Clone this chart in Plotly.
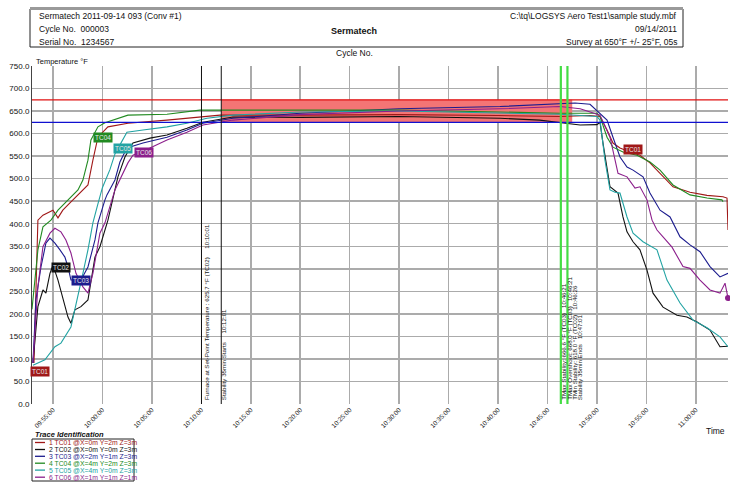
import plotly.graph_objects as go
import pandas as pd

BASE = pd.Timestamp("2011-09-14 09:55:00")

# ---- data: elapsed minutes after 09:55:00 and temperature (°F) ----
tc01_min = [-1.92, -1.72, -1.52, -1.01, -0.5, 0.0, 0.51, 1.0, 1.52, 2.53, 3.54, 4.04, 4.55, 5.56, 7.58, 11.53, 14.86,
            16.89, 25.0, 35.0, 45.0, 51.3, 54.3, 55.31, 56.02, 56.62, 57.33, 58.34, 59.35, 60.36, 61.38, 62.69, 64.41,
            66.13, 67.74, 68.15, 68.25]
tc01_temp = [91, 250, 408, 419, 425, 430, 413, 430, 442, 464, 486, 541, 592, 615, 623, 630, 637,
             641, 641, 642, 640, 638, 640, 638, 608, 579, 568, 559, 552, 535, 512, 482, 470,
             463, 460, 457, 386]

tc02_min = [-2.02, -1.52, -1.01, -0.71, -0.3, 0.0, 0.51, 1.01, 1.52, 1.82, 2.22, 2.83, 3.54, 4.25, 4.75, 5.56, 6.57,
            7.28, 8.09, 9.81, 11.53, 13.55, 15.17, 18.2, 25.0, 35.0, 45.2, 49.2, 51.26, 53.3, 55.0, 55.31, 55.61,
            56.02, 56.32, 57.13, 57.63, 58.04, 58.65, 59.35, 60.06, 60.67, 61.68, 63.09, 64.1, 65.12, 66.43, 67.44,
            68.25]
tc02_temp = [91, 216, 253, 246, 290, 308, 275, 231, 193, 179, 209, 216, 231, 326, 349, 408, 504,
             548, 579, 590, 597, 612, 625, 637, 636, 638, 634, 630, 625, 619, 620, 625, 579,
             519, 482, 468, 415, 382, 360, 342, 297, 246, 215, 197, 193, 182, 164, 127,
             128]

tc03_min = [-2.02, -1.72, -1.21, -0.71, -0.3, 0.2, 0.71, 1.21, 1.52, 1.82, 2.83, 3.54, 4.25, 4.55, 5.26, 5.46, 6.27,
            6.77, 7.48, 9.1, 11.53, 13.55, 15.17, 18.2, 25.0, 35.0, 45.2, 51.26, 52.78, 54.3, 55.0, 56.02, 56.62,
            57.33, 58.04, 58.65, 59.66, 60.36, 61.38, 62.39, 63.4, 64.41, 65.42, 66.43, 67.44, 68.25]
tc03_temp = [91, 231, 304, 357, 368, 357, 342, 326, 304, 275, 275, 304, 364, 402, 453, 464, 497,
             537, 568, 579, 592, 608, 623, 634, 645, 655, 660, 667, 668, 665, 650, 630, 592,
             548, 526, 519, 504, 468, 430, 415, 371, 353, 338, 305, 282, 290]

tc04_min = [-2.12, -1.72, -1.52, -1.01, -0.2, 0.51, 1.52, 2.53, 3.03, 3.54, 3.84, 4.55, 5.26, 6.57, 7.58, 11.53,
            14.86, 18.2, 25.0, 35.0, 45.2, 51.26, 55.0, 55.31, 56.02, 56.62, 57.63, 59.05, 60.36, 61.38, 62.69,
            64.41, 66.13, 67.64, 67.74]
tc04_temp = [210, 300, 342, 393, 408, 430, 453, 475, 497, 541, 586, 615, 624, 634, 641, 643,
             652, 652, 652, 652, 648, 645, 645, 638, 592, 570, 559, 552, 537, 519, 486,
             464, 457, 453, 449]

tc05_min = [-2.02, -0.81, 0.2, 0.81, 1.82, 2.53, 3.03, 3.54, 4.04, 4.5, 5.0, 5.76, 6.27, 6.9, 7.48, 9.1, 11.53,
            13.55, 15.57, 18.2, 25.0, 35.0, 45.2, 51.26, 55.0, 55.31, 55.81, 56.32, 56.83, 57.33, 58.04, 58.65,
            59.66, 61.07, 62.08, 63.4, 64.71, 66.13, 67.44, 68.25]
tc05_temp = [86, 98, 127, 135, 171, 237, 290, 342, 402, 440, 480, 520, 555, 580, 603, 608, 615,
             623, 634, 641, 648, 650, 645, 643, 638, 630, 541, 475, 470, 468, 415, 379,
             360, 342, 275, 224, 186, 169, 149, 127]

tc06_min = [-2.02, -1.52, -1.01, -0.3, 0.2, 0.81, 1.31, 1.82, 2.33, 3.03, 3.54, 4.04, 4.75, 5.26, 6.27, 7.08, 7.58,
            8.09, 9.81, 11.53, 13.55, 15.17, 18.2, 25.0, 35.0, 45.2, 51.26, 53.3, 55.31, 56.32, 56.83, 57.13,
            58.04, 58.85, 59.35, 60.06, 60.57, 61.07, 61.68, 62.59, 63.7, 64.41, 65.42, 66.43, 67.44, 67.95, 68.25]
tc06_temp = [91, 260, 349, 379, 390, 382, 364, 335, 290, 260, 246, 290, 379, 402, 475, 512, 535,
             552, 568, 586, 603, 619, 630, 642, 650, 655, 660, 655, 641, 592, 541, 512,
             504, 479, 482, 453, 408, 386, 371, 348, 305, 301, 275, 253, 246, 268, 235]

trace_names = ["TC01", "TC02", "TC03", "TC04", "TC05", "TC06"]
trace_colors = ["#a01818", "#111111", "#1c1c8e", "#218a21", "#22a3a3", "#8c1f8c"]
legend_texts = ["1 TC01 @X=0m Y=2m Z=3m", "2 TC02 @X=0m Y=0m Z=3m", "3 TC03 @X=2m Y=1m Z=3m",
                "4 TC04 @X=4m Y=2m Z=3m", "5 TC05 @X=4m Y=0m Z=3m", "6 TC06 @X=1m Y=1m Z=1m"]

# badge labels: (trace index, minutes, temp)
badge_trace = [0, 1, 2, 3, 4, 5, 0]
badge_min = [-1.31, 0.81, 2.83, 5.06, 7.08, 9.2, 58.65]
badge_temp = [73, 304, 273, 592, 568, 557, 564]

# limits & event times
upper_limit = 675
lower_limit = 625
furnace_time = "2011-09-14 10:10:01"
stab_start = "2011-09-14 10:12:01"
stab_end = "2011-09-14 10:47:01"
tmax_time = "2011-09-14 10:46:21"
band_end = "2011-09-14 10:47:30"

all_min = [tc01_min, tc02_min, tc03_min, tc04_min, tc05_min, tc06_min]
all_temp = [tc01_temp, tc02_temp, tc03_temp, tc04_temp, tc05_temp, tc06_temp]


def to_time(mins):
    return [BASE + pd.Timedelta(minutes=m) for m in mins]


def px(x):
    return (x - 32) / 696.0


def py(y):
    return (404 - y) / 338.0


FONT = "Liberation Sans, Arial, sans-serif"

fig = go.Figure()
for i in range(6):
    fig.add_trace(go.Scatter(x=to_time(all_min[i]), y=all_temp[i], mode="lines",
                             line=dict(color=trace_colors[i], width=1.1), name=trace_names[i],
                             showlegend=False, hoverinfo="skip"))
# end marker on TC06
fig.add_trace(go.Scatter(x=to_time([tc06_min[-1]]), y=[tc06_temp[-1]], mode="markers",
                         marker=dict(color=trace_colors[5], size=6), showlegend=False, hoverinfo="skip",
                         cliponaxis=False))

shapes = []
# stability band
shapes.append(dict(type="rect", xref="x", yref="y", x0=stab_start, x1=band_end, y0=lower_limit, y1=upper_limit,
                   fillcolor="#f47575", line=dict(width=0), layer="between"))
# limits
shapes.append(dict(type="line", xref="paper", yref="y", x0=0, x1=1, y0=upper_limit, y1=upper_limit,
                   line=dict(color="#e01010", width=1.2)))
shapes.append(dict(type="line", xref="paper", yref="y", x0=0, x1=1, y0=lower_limit, y1=lower_limit,
                   line=dict(color="#1010d0", width=1.2)))
# event lines
for t in [furnace_time, stab_start]:
    shapes.append(dict(type="line", xref="x", yref="paper", x0=t, x1=t, y0=0, y1=1,
                       line=dict(color="#111111", width=1)))
for t in [tmax_time, stab_end]:
    shapes.append(dict(type="line", xref="x", yref="paper", x0=t, x1=t, y0=0, y1=1,
                       line=dict(color="#44dd44", width=2.2)))

# header box
shapes.append(dict(type="rect", xref="paper", yref="paper", x0=px(30), x1=px(683), y0=py(47), y1=py(9),
                   line=dict(color="#222222", width=1), fillcolor="rgba(0,0,0,0)"))
shapes.append(dict(type="line", xref="paper", yref="paper", x0=px(30), x1=px(683), y0=py(8.5), y1=py(8.5),
                   line=dict(color="#9a9a9a", width=3)))
# legend box
shapes.append(dict(type="rect", xref="paper", yref="paper", x0=px(32), x1=px(134), y0=py(481), y1=py(439),
                   line=dict(color="#222222", width=1), fillcolor="rgba(0,0,0,0)"))
legend_rows = [442.5, 449.5, 456.3, 463.2, 470.1, 477.2]
for i in range(6):
    shapes.append(dict(type="line", xref="paper", yref="paper", x0=px(35), x1=px(45),
                       y0=py(legend_rows[i]), y1=py(legend_rows[i]),
                       line=dict(color=trace_colors[i], width=1.3)))

ann = []


def text(x, y, s, size=9, anchor="left", color="#111111", bold=False, italic=False, yanchor="middle"):
    if bold:
        s = "<b>" + s + "</b>"
    if italic:
        s = "<i>" + s + "</i>"
    ann.append(dict(xref="paper", yref="paper", x=px(x), y=py(y), text=s, showarrow=False,
                    xanchor=anchor, yanchor=yanchor, font=dict(family=FONT, size=size, color=color)))


text(37, 16, "Sermatech 2011-09-14 093 (Conv #1)", 8.5)
text(37, 29, "Cycle No.&nbsp;&nbsp;000003", 8.5)
text(37, 42, "Serial No.&nbsp;&nbsp;1234567", 8.5)
text(354, 31, "Sermatech", 9, anchor="center", bold=True)
text(679, 16, "C:\\tq\\LOGSYS Aero Test1\\sample study.mbf", 8.5, anchor="right")
text(679, 29, "09/14/2011", 8.5, anchor="right")
text(679, 42, "Survey at 650°F +/- 25°F, 05s", 8.5, anchor="right")
text(354, 53, "Cycle No.", 8.5, anchor="center")
text(34, 61, "Temperature °F", 7.5)
text(727, 431, "Time", 8.5, anchor="right")
text(33, 435, "Trace Identification", 7.5, bold=True, italic=True)
for i in range(6):
    text(47, legend_rows[i], legend_texts[i], 6.8, color=trace_colors[i])

# badges
for k in range(len(badge_trace)):
    i = badge_trace[k]
    ann.append(dict(xref="x", yref="y", x=BASE + pd.Timedelta(minutes=badge_min[k]), y=badge_temp[k],
                    text=trace_names[i], showarrow=False, bgcolor=trace_colors[i], borderpad=1,
                    font=dict(family=FONT, size=6.5, color="#e8e8e8")))

# vertical event texts
vt = [
    (furnace_time, "Furnace at Set-Point Temperature : 625.7 °F (TC02)&nbsp;&nbsp;&nbsp;&nbsp;&nbsp;10:10:01", 4.5),
    (stab_start, "Stability 35min Starts&nbsp;&nbsp;&nbsp;&nbsp;&nbsp;10:12:01", 2.5),
    (tmax_time, "TMax Stability: 666.6 °F (TC03)&nbsp;&nbsp;&nbsp;10:46:21", 2.5),
    (tmax_time, "TMax Overshoot: 668.0 °F (TC03)&nbsp;&nbsp;&nbsp;10:46:21", 8.5),
    (tmax_time, "TMin Stability: 618.0 °F (TC02)&nbsp;&nbsp;&nbsp;10:46:26", 13.5),
    (tmax_time, "Stability 35min Ends&nbsp;&nbsp;&nbsp;10:47:01", 18.5),
]
for t, s, dx in vt:
    ann.append(dict(xref="x", yref="paper", x=t, y=0, text=s, textangle=-90, showarrow=False,
                    xanchor="center", yanchor="bottom", xshift=dx, yshift=2,
                    font=dict(family=FONT, size=6.2, color="#111111")))

fig.update_layout(
    width=730, height=483,
    margin=dict(l=32, r=2, t=66, b=79, autoexpand=False),
    paper_bgcolor="white", plot_bgcolor="white",
    showlegend=False,
    shapes=shapes, annotations=ann,
    xaxis=dict(type="date", range=["2011-09-14 09:52:53", "2011-09-14 11:03:15"],
               tickmode="linear", tick0="2011-09-14 09:55:00", dtick=300000,
               tickformat="%H:%M:%S", tickangle=-45, automargin=False,
               tickfont=dict(family=FONT, size=6.5, color="#222222"),
               showgrid=True, gridcolor="#ababab", gridwidth=1.5, zeroline=False,
               showline=False, ticks=""),
    yaxis=dict(range=[0, 750], tickmode="linear", tick0=0, dtick=50, tickformat=".1f", automargin=False,
               tickfont=dict(family=FONT, size=8, color="#111111"),
               showgrid=True, gridcolor="#ababab", gridwidth=1.5, zeroline=False,
               showline=True, linecolor="#444444", linewidth=1, ticks=""),
)

fig.write_html("out.html", config={"displayModeBar": False, "staticPlot": True},
               post_script="document.body.style.margin='0';document.body.style.padding='0';"
                           "document.documentElement.style.overflow='hidden';")
